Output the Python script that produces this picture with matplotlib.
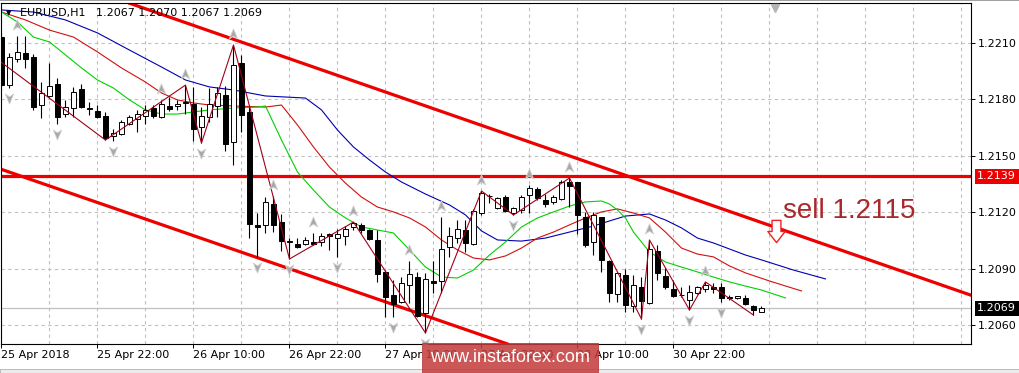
import matplotlib
matplotlib.use("Agg")
import matplotlib.pyplot as plt
import matplotlib.transforms as mtransforms
from matplotlib.path import Path
from matplotlib.patches import Rectangle

# EURUSD H1 candles, oldest first (index 0 = 25 Apr 10:00)
opens = [
    1.22130, 1.21875, 1.22013, 1.22045, 1.22024, 1.21769, 1.21817, 1.21881, 1.21721, 1.21753,
    1.21854, 1.21753, 1.21737, 1.21711, 1.21604, 1.21615, 1.21668, 1.21695, 1.21711, 1.21753,
    1.21705, 1.21764, 1.21764, 1.21780, 1.21774, 1.21652, 1.21705, 1.21764, 1.21822, 1.21572,
    1.21992, 1.21732, 1.21132, 1.21132, 1.21243, 1.21147, 1.21041, 1.21031, 1.21031, 1.21041,
    1.21041, 1.21084, 1.21062, 1.21073, 1.21121, 1.21132, 1.21105, 1.21052, 1.20882, 1.20760,
    1.20722, 1.20813, 1.20855, 1.20664, 1.20834, 1.20834, 1.21015, 1.21062, 1.21105, 1.21031,
    1.21195, 1.21283, 1.21222, 1.21279, 1.21195, 1.21211, 1.21291, 1.21323, 1.21264, 1.21254,
    1.21270, 1.21360, 1.21360, 1.21174, 1.21041, 1.21174, 1.20940, 1.20765, 1.20866, 1.20701,
    1.20802, 1.20717, 1.20993, 1.20861, 1.20791, 1.20762, 1.20733, 1.20770, 1.20791, 1.20802,
    1.20802, 1.20749, 1.20744, 1.20744, 1.20701, 1.20670]
highs = [
    1.22152, 1.22045, 1.22136, 1.22136, 1.22040, 1.21891, 1.21992, 1.21912, 1.21796, 1.21865,
    1.21881, 1.21785, 1.21769, 1.21732, 1.21642, 1.21689, 1.21716, 1.21742, 1.21769, 1.21769,
    1.21796, 1.21812, 1.21796, 1.21875, 1.21865, 1.21758, 1.21859, 1.21865, 1.21870, 1.22088,
    1.22035, 1.21758, 1.21195, 1.21280, 1.21286, 1.21190, 1.21062, 1.21062, 1.21068, 1.21089,
    1.21089, 1.21089, 1.21110, 1.21126, 1.21147, 1.21142, 1.21110, 1.21105, 1.20892, 1.20839,
    1.20855, 1.20940, 1.20882, 1.20876, 1.20940, 1.21174, 1.21121, 1.21158, 1.21158, 1.21217,
    1.21312, 1.21296, 1.21279, 1.21291, 1.21227, 1.21291, 1.21344, 1.21333, 1.21296, 1.21291,
    1.21371, 1.21381, 1.21360, 1.21201, 1.21201, 1.21174, 1.20946, 1.20882, 1.20898, 1.20866,
    1.20855, 1.21052, 1.21025, 1.20903, 1.20839, 1.20802, 1.20813, 1.20807, 1.20829, 1.20823,
    1.20823, 1.20760, 1.20754, 1.20760, 1.20706, 1.20700]
lows = [
    1.21870, 1.21859, 1.21998, 1.21966, 1.21742, 1.21700, 1.21812, 1.21668, 1.21705, 1.21705,
    1.21753, 1.21716, 1.21700, 1.21583, 1.21578, 1.21610, 1.21663, 1.21626, 1.21668, 1.21700,
    1.21700, 1.21737, 1.21742, 1.21721, 1.21578, 1.21567, 1.21679, 1.21705, 1.21525, 1.21450,
    1.21626, 1.21062, 1.20962, 1.21089, 1.21094, 1.20993, 1.20951, 1.21009, 1.21025, 1.21025,
    1.21020, 1.20999, 1.20962, 1.21025, 1.21105, 1.21089, 1.21052, 1.20829, 1.20643, 1.20643,
    1.20717, 1.20717, 1.20643, 1.20558, 1.20770, 1.20770, 1.20962, 1.21036, 1.20988, 1.21025,
    1.21185, 1.21248, 1.21217, 1.21201, 1.21185, 1.21195, 1.21195, 1.21264, 1.21227, 1.21243,
    1.21264, 1.21227, 1.21084, 1.21015, 1.20972, 1.20882, 1.20722, 1.20722, 1.20669, 1.20669,
    1.20632, 1.20712, 1.20839, 1.20791, 1.20749, 1.20749, 1.20680, 1.20765, 1.20776, 1.20770,
    1.20722, 1.20733, 1.20738, 1.20706, 1.20653, 1.20670]
closes = [
    1.21875, 1.22024, 1.22051, 1.22013, 1.21758, 1.21833, 1.21870, 1.21705, 1.21758, 1.21838,
    1.21758, 1.21750, 1.21705, 1.21594, 1.21620, 1.21679, 1.21705, 1.21721, 1.21742, 1.21711,
    1.21774, 1.21748, 1.21774, 1.21785, 1.21642, 1.21711, 1.21774, 1.21833, 1.21562, 1.21982,
    1.21716, 1.21137, 1.21121, 1.21254, 1.21132, 1.21046, 1.21044, 1.21015, 1.21052, 1.21031,
    1.21073, 1.21073, 1.21084, 1.21110, 1.21142, 1.21105, 1.21057, 1.20871, 1.20749, 1.20712,
    1.20823, 1.20871, 1.20648, 1.20845, 1.20823, 1.21004, 1.21073, 1.21110, 1.21036, 1.21206,
    1.21302, 1.21286, 1.21275, 1.21206, 1.21222, 1.21279, 1.21328, 1.21275, 1.21243, 1.21279,
    1.21360, 1.21339, 1.21185, 1.21025, 1.21185, 1.20946, 1.20770, 1.20876, 1.20706, 1.20813,
    1.20728, 1.21004, 1.20876, 1.20802, 1.20754, 1.20759, 1.20776, 1.20802, 1.20813, 1.20791,
    1.20744, 1.20746, 1.20752, 1.20712, 1.20680, 1.20690]

# alligator lines (shifted forward)
lips_idx = [0, 2, 4, 6, 8, 10, 12, 14, 16, 18, 20, 22, 24, 26, 29, 32, 33, 35, 37, 39,
            41, 43, 45, 47, 49, 51, 53, 55, 57, 59, 61, 63, 65, 67, 69, 71, 73, 75, 76, 77,
            78, 79, 81, 83, 85, 87, 89, 91, 93, 95, 98]
lips = [1.22263, 1.22210, 1.22130, 1.22104, 1.22035, 1.21966, 1.21902, 1.21859, 1.21796, 1.21743,
        1.21721, 1.21721, 1.21732, 1.21743, 1.21753, 1.21758, 1.21764, 1.21583, 1.21413, 1.21317,
        1.21227, 1.21169, 1.21121, 1.21105, 1.21089, 1.20999, 1.20908, 1.20855, 1.20850, 1.20892,
        1.20972, 1.21041, 1.21121, 1.21169, 1.21201, 1.21232, 1.21254, 1.21259, 1.21243, 1.21211,
        1.21169, 1.21094, 1.20988, 1.20935, 1.20908, 1.20882, 1.20855, 1.20829, 1.20807, 1.20786,
        1.20744]
teeth_idx = [0, 3, 6, 9, 12, 15, 18, 20, 22, 24, 26, 29, 33, 35, 37, 39, 41, 43, 45, 47,
             49, 51, 53, 55, 57, 59, 61, 63, 65, 67, 69, 71, 73, 75, 77, 79, 81, 83, 85, 87,
             89, 91, 93, 96, 100]
teeth = [1.22263, 1.22221, 1.22167, 1.22130, 1.22051, 1.21966, 1.21891, 1.21833, 1.21796, 1.21780,
         1.21769, 1.21764, 1.21758, 1.21769, 1.21663, 1.21546, 1.21439, 1.21354, 1.21280, 1.21227,
         1.21201, 1.21169, 1.21121, 1.21052, 1.20999, 1.20956, 1.20946, 1.20967, 1.21009, 1.21062,
         1.21094, 1.21132, 1.21169, 1.21201, 1.21217, 1.21195, 1.21169, 1.21094, 1.21009, 1.20977,
         1.20962, 1.20914, 1.20877, 1.20834, 1.20781]
jaw_idx = [0, 4, 8, 12, 16, 20, 23, 26, 29, 33, 38, 40, 42, 44, 46, 48, 50, 53, 56, 58,
           60, 62, 65, 68, 71, 74, 76, 78, 81, 83, 85, 87, 89, 91, 93, 95, 99, 103]
jaw = [1.22274, 1.22263, 1.22221, 1.22152, 1.22061, 1.21971, 1.21902, 1.21865, 1.21849, 1.21817,
       1.21806, 1.21743, 1.21636, 1.21546, 1.21477, 1.21413, 1.21360, 1.21296, 1.21238, 1.21185,
       1.21100, 1.21052, 1.21046, 1.21062, 1.21094, 1.21126, 1.21153, 1.21179, 1.21190, 1.21158,
       1.21116, 1.21062, 1.21036, 1.21004, 1.20972, 1.20946, 1.20892, 1.20845]

# zigzag vertices
zz_idx = [-0.06, 13, 23, 25, 29, 36, 44, 53, 60, 64, 71, 80, 81, 86, 88, 94]
zz_val = [1.21997, 1.21583, 1.21875, 1.21567, 1.22088, 1.20951, 1.21147, 1.20558,
          1.21312, 1.21185, 1.21381, 1.20632, 1.21052, 1.20680, 1.20829, 1.20653]

# fractals (bar indices)
up_fractals = [2, 20, 23, 29, 34, 39, 44, 51, 55, 60, 66, 71, 81, 88]
down_fractals = [1, 7, 14, 25, 32, 36, 42, 49, 53, 64, 80, 86, 90]

# channel anchors and levels
upper_chan = [(0, 1.22546), (60, 1.21661)]
lower_chan = [(0, 1.21427), (60, 1.20547)]
level = 1.2139
last_price = 1.2069
sell_text_pos = (97.7, 1.21169)
sell_arrow_pos = (96.8, 1.21100)

xtick_idx = [0, 12, 24, 36, 48, 60, 72, 84]
xtick_labels = ["25 Apr 2018", "25 Apr 22:00", "26 Apr 10:00", "26 Apr 22:00",
                "27 Apr 10:00", "27 Apr 22:00", "30 Apr 10:00", "30 Apr 22:00"]
yticks = [1.2060, 1.2090, 1.2120, 1.2150, 1.2180, 1.2210]

W, H = 1019, 373
fig = plt.figure(figsize=(W / 100, H / 100), dpi=100)
fig.patch.set_facecolor("white")
ax = fig.add_axes([1 / W, 29 / H, 970 / W, 340.7 / H])
ax.set_xlim(-0.06, 121.19)
ax.set_ylim(1.204992, 1.223094)

# grid
for gx in range(0, 121, 6):
    ax.axvline(gx, color="#c0c0c0", lw=0.8, ls=(0, (3, 3)), zorder=0.5)
for gy in yticks:
    ax.axhline(gy, color="#c0c0c0", lw=0.8, ls=(0, (3, 3)), zorder=0.5)

ax.axhline(last_price, color="#c0c0c0", lw=0.9, zorder=1)
ax.axhline(level, color="#ee0000", lw=2.3, zorder=1.5)
ax.axline(upper_chan[0], upper_chan[1], color="#ee0000", lw=2.3, zorder=1.5)
ax.axline(lower_chan[0], lower_chan[1], color="#ee0000", lw=2.3, zorder=1.5)

ax.plot(jaw_idx, jaw, color="#0000b0", lw=0.8, zorder=2)
ax.plot(teeth_idx, teeth, color="#d01010", lw=0.8, zorder=2)
ax.plot(lips_idx, lips, color="#00d000", lw=0.8, zorder=2)

# candles
idx = list(range(len(opens)))
ax.vlines(idx, lows, highs, color="black", lw=0.8, zorder=3)
bottoms = [min(o, c) for o, c in zip(opens, closes)]
heights = [abs(c - o) for o, c in zip(opens, closes)]
colors = ["white" if c >= o else "black" for o, c in zip(opens, closes)]
ax.bar(idx, heights, bottom=bottoms, width=0.6, color=colors, edgecolor="black",
       linewidth=0.7, zorder=3.5)

ax.plot(zz_idx, zz_val, color="#a00018", lw=0.8, zorder=4)

# fractal arrows
up_path = Path([(0, 1), (0.75, -0.8), (0, -0.3), (-0.75, -0.8), (0, 1)],
               [Path.MOVETO, Path.LINETO, Path.LINETO, Path.LINETO, Path.CLOSEPOLY])
down_path = Path([(0, -1), (0.75, 0.8), (0, 0.3), (-0.75, 0.8), (0, -1)],
                 [Path.MOVETO, Path.LINETO, Path.LINETO, Path.LINETO, Path.CLOSEPOLY])
tr_up = mtransforms.offset_copy(ax.transData, fig=fig, x=0, y=11, units="dots")
tr_dn = mtransforms.offset_copy(ax.transData, fig=fig, x=0, y=-10, units="dots")
ax.plot(up_fractals, [highs[i] for i in up_fractals], ls="none", marker=up_path, ms=8,
        mfc="#a8a8a8", mec="#d0d0d0", mew=0.6, transform=tr_up, zorder=4.5)
ax.plot(down_fractals, [lows[i] for i in down_fractals], ls="none", marker=down_path, ms=8,
        mfc="#a8a8a8", mec="#d0d0d0", mew=0.6, transform=tr_dn, zorder=4.5)

# sell annotation
ax.text(sell_text_pos[0], sell_text_pos[1], "sell 1.2115", color="#a8282c", fontsize=20,
        family="Liberation Sans", va="baseline", ha="left", zorder=6)
arrow_path = Path([(-0.2, 0.5), (0.2, 0.5), (0.2, 0.0), (0.39, 0.0), (0, -0.5),
                   (-0.39, 0.0), (-0.2, 0.0), (-0.2, 0.5)],
                  [Path.MOVETO] + [Path.LINETO] * 6 + [Path.CLOSEPOLY])
ax.plot([sell_arrow_pos[0]], [sell_arrow_pos[1]], marker=arrow_path, ms=16, mfc="white",
        mec="#ee2020", mew=1.0, ls="none", zorder=6)

# chart-shift marker at top
ax.plot([96.7], [0.985], transform=ax.get_xaxis_transform(), marker="v", ms=6,
        color="#b4b4b4", clip_on=False, zorder=6)

# axes styling
for s in ax.spines.values():
    s.set_color("black")
    s.set_linewidth(0.8)
ax.yaxis.tick_right()
ax.set_yticks(yticks)
ax.set_yticklabels(["%.4f" % v for v in yticks])
ax.set_xticks(xtick_idx)
ax.set_xticklabels(xtick_labels)
for lbl in ax.get_xticklabels():
    lbl.set_ha("left")
ax.tick_params(axis="both", direction="out", length=3, width=0.7, labelsize=8, pad=2,
               colors="black")
ax.tick_params(axis="x", pad=1.5)

ax.text(1.0065, level, "1.2139", transform=ax.get_yaxis_transform(), color="white",
        fontsize=8, va="center", ha="left", clip_on=False, zorder=7,
        bbox=dict(boxstyle="square,pad=0.22", fc="#ee0000", ec="none"))
ax.text(1.0065, last_price, "1.2069", transform=ax.get_yaxis_transform(), color="white",
        fontsize=8, va="center", ha="left", clip_on=False, zorder=7,
        bbox=dict(boxstyle="square,pad=0.22", fc="black", ec="none"))

# header
fig.text(6 / W, 1 - 13 / H, "\u25bc", fontsize=5, va="center", ha="left", color="black")
fig.text(20 / W, 1 - 13 / H, "EURUSD,H1   1.2067 1.2070 1.2067 1.2069", fontsize=8,
         va="center", ha="left", color="black", zorder=8)

# frame details
fig.add_artist(Rectangle((0, 0), 1, 4 / H, transform=fig.transFigure, fc="#ececec",
                         ec="#b0b0b0", lw=0.6, zorder=9))
fig.add_artist(Rectangle((0, 1 - 1.2 / H), 1, 1.2 / H, transform=fig.transFigure,
                         fc="#a0a0a0", ec="none", zorder=9))

# watermark (covers part of the date axis, as in the original)
fig.add_artist(Rectangle((422 / W, 0), 176 / W, 30 / H, transform=fig.transFigure,
                         fc="#c43a3a", ec="#b03030", lw=0.6, alpha=0.85, zorder=10))
fig.text(510 / W, 15.5 / H, "www.instaforex.com", color="white", fontsize=13,
         family="Liberation Sans", ha="center", va="center", zorder=11)

fig.savefig("out.png", dpi=100)
